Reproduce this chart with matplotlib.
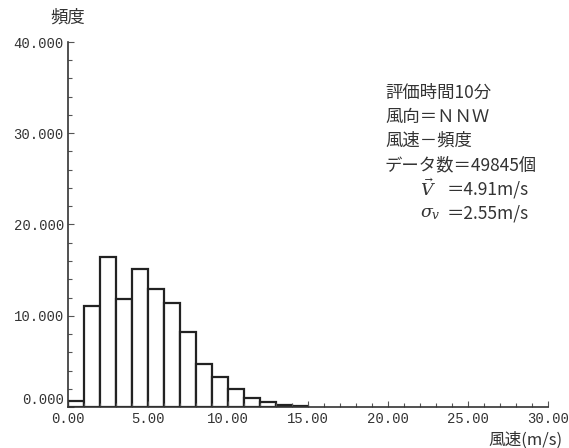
import matplotlib.pyplot as plt
import numpy as np

plt.rcParams['font.family'] = ['Noto Sans CJK JP', 'DejaVu Sans']
plt.rcParams['mathtext.fontset'] = 'dejavuserif'

# wind speed bins (m/s, left edges) and frequency (%)
bin_left = np.arange(0, 15)
freq = [0.66, 11.06, 16.48, 11.87, 15.13, 12.89, 11.36, 8.20,
        4.69, 3.33, 2.00, 0.99, 0.51, 0.26, 0.10]

y_ticks = [0, 10, 20, 30, 40]
x_ticks = [0, 5, 10, 15, 20, 25, 30]

info_lines = ["評価時間10分", "風向＝ＮＮＷ", "風速－頻度", "データ数＝49845個"]
mean_label = "＝4.91m/s"
std_label = "＝2.55m/s"

txt = "#333333"

fig = plt.figure(figsize=(5.69, 4.48), dpi=100)
ax = fig.add_axes([68 / 569, 1 - 407 / 448, 480 / 569, 365 / 448])

ax.bar(bin_left, freq, width=1.0, align="edge", color="white",
       edgecolor="#222222", linewidth=1.6)

ax.set_xlim(0, 30)
ax.set_ylim(0, 40)
ax.spines["top"].set_visible(False)
ax.spines["right"].set_visible(False)
for s in ["left", "bottom"]:
    ax.spines[s].set_color("#333333")
    ax.spines[s].set_linewidth(1.2)

ax.set_yticks(y_ticks)
ax.set_yticklabels(["%.3f" % v for v in y_ticks], family="Liberation Mono")
ax.set_yticks(np.arange(0, 41, 2), minor=True)
ax.set_xticks(x_ticks)
ax.set_xticklabels(["%.2f" % v for v in x_ticks], family="Liberation Mono")
ax.set_xticks(np.arange(0, 31, 1), minor=True)
ax.tick_params(which="both", direction="in", color="#555555", width=0.8)
ax.tick_params(which="major", length=4, labelsize=10, labelcolor=txt)
ax.tick_params(axis="y", which="major", pad=3)
ax.tick_params(axis="x", which="major", pad=3.5)
ax.tick_params(which="minor", length=3)
ax.get_yticklabels()[0].set_verticalalignment("bottom")

fig.text(68 / 569, 1 - 18 / 448, "頻度", ha="center", va="center",
         fontsize=12.5, color=txt)
fig.text(563 / 569, 1 - 440 / 448, "風速(m/s)", ha="right", va="center",
         fontsize=12, color=txt)

y0 = 93
dy = 24
for i, line in enumerate(info_lines):
    fig.text(385 / 569, 1 - (y0 + i * dy) / 448, line, ha="left",
             va="center", fontsize=12.5, color=txt)
fig.text(420 / 569, 1 - (y0 + 4 * dy) / 448, r"$\vec{V}$", ha="left",
         va="center", fontsize=12.5, color=txt)
fig.text(447 / 569, 1 - (y0 + 4 * dy) / 448, mean_label, ha="left",
         va="center", fontsize=12.5, color=txt)
fig.text(420 / 569, 1 - (y0 + 5 * dy) / 448, r"$\sigma_v$", ha="left",
         va="center", fontsize=12.5, color=txt)
fig.text(447 / 569, 1 - (y0 + 5 * dy) / 448, std_label, ha="left",
         va="center", fontsize=12.5, color=txt)

fig.savefig("out.png", dpi=100)
